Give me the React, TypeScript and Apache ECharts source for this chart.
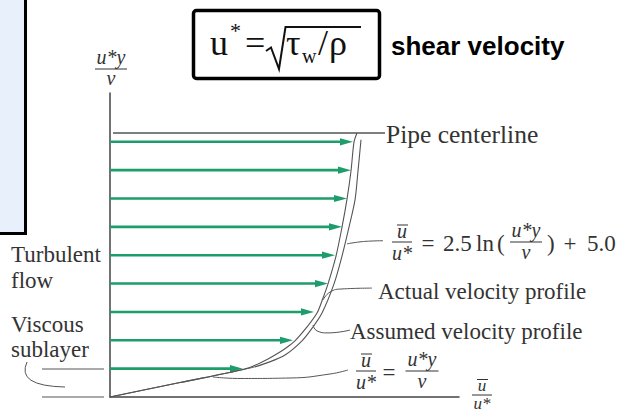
import { useEffect, useRef } from "react";
import * as echarts from "echarts";

// Velocity profile in wall units: x = ū/u*, y = u*y/ν (display units)
const arrowLevels = [1, 2, 3, 4, 5, 6, 7, 8, 9];
const arrowLengths = [13.3, 18.3, 20.4, 21.8, 22.5, 23.2, 23.7, 24.1, 24.3];

const actualX = [0, 7.0, 13.5, 15.2, 16.5, 17.6, 18.5, 19.7, 20.7, 21.3, 21.8, 22.6, 23.2, 23.7, 24.1, 24.4, 24.7];
const actualY = [0, 0.51, 0.99, 1.23, 1.48, 1.73, 1.98, 2.47, 2.96, 3.49, 3.99, 4.97, 5.99, 6.98, 7.97, 8.99, 9.31];
const assumedX = [0, 7.0, 14.0, 15.9, 17.5, 19.2, 20.3, 21.2, 22.4, 23.2, 23.9, 24.5, 24.8, 25.1];
const assumedY = [0, 0.51, 1.02, 1.23, 1.48, 1.98, 2.47, 2.96, 3.99, 4.97, 5.99, 6.95, 7.97, 9.07];

const centerlineX = [0.3, 27.5];
const centerlineY = 9.31;
const X_MAX = 34.9;
const Y_MAX = 10.72;

// leader lines from the curves to their labels
const leaderLogX = [23.7, 25.0, 26.2, 27.3];
const leaderLogY = [5.4, 5.47, 5.5, 5.51];
const leaderActualX = [21.3, 22.0, 23.2, 26.2];
const leaderActualY = [3.42, 3.7, 3.81, 3.84];
const leaderAssumedX = [20.3, 20.7, 21.8, 24.0];
const leaderAssumedY = [2.54, 2.33, 2.26, 2.36];
const leaderLinearX = [10.3, 13.0, 18.0, 22.0, 23.8];
const leaderLinearY = [0.705, 0.653, 0.67, 0.811, 0.952];

const GREEN = "#1d9d6b";
const GRAY = "#555555";
const INK = "#333333";
const SERIF = '"Liberation Serif", "Times New Roman", serif';
const SANS = '"Liberation Sans", Arial, sans-serif';

const zip = (xs: number[], ys: number[]) => xs.map((x, i) => [x, ys[i]]);

function text(
  x: number,
  y: number,
  str: string,
  fs: number,
  opt: { italic?: boolean; bold?: boolean; align?: string; family?: string; fill?: string; lineHeight?: number } = {}
) {
  const align = opt.align || "left";
  const style: any = {
    text: str,
    fontSize: fs,
    fontFamily: opt.family || SERIF,
    fontStyle: opt.italic ? "italic" : "normal",
    fontWeight: opt.bold ? "bold" : "normal",
    fill: opt.fill || INK,
    align,
    textAlign: align,
    verticalAlign: "middle",
    textVerticalAlign: "middle",
  };
  if (opt.lineHeight) style.lineHeight = opt.lineHeight;
  return { type: "text", x, y, silent: true, style };
}

function hline(x1: number, x2: number, y: number, w = 1, color = INK) {
  return { type: "line", silent: true, shape: { x1, y1: y, x2, y2: y }, style: { stroke: color, lineWidth: w } };
}

// stacked fraction: numerator and denominator as one two-line text, with a bar between
function fraction(
  cx: number,
  barY: number,
  num: string,
  den: string,
  fs: number,
  barW: number,
  numDy: number,
  denDy: number,
  overline: boolean
) {
  const els: any[] = [
    text(cx, barY + (numDy + denDy) / 2, num + "\n" + den, fs, {
      italic: true,
      align: "center",
      lineHeight: denDy - numDy,
    }),
    hline(cx - barW / 2, cx + barW / 2, barY, 1),
  ];
  if (overline) els.push(hline(cx - 5, cx + 6, barY + numDy - 6, 1));
  return els;
}

function buildGraphics() {
  const g: any[] = [];
  // side panel
  g.push({
    type: "rect",
    silent: true,
    shape: { x: -10, y: -10, width: 35.5, height: 243.5 },
    style: { fill: "#e7f0fb", stroke: "#000", lineWidth: 3 },
  });
  // definition box
  g.push({
    type: "rect",
    silent: true,
    shape: { x: 193.5, y: 10.5, width: 186, height: 68, r: 3 },
    style: { fill: "#fff", stroke: "#000", lineWidth: 3.5 },
  });
  g.push(text(210, 43, "u", 36, { fill: "#111" }));
  g.push(text(230, 30, "*", 22, { fill: "#111" }));
  g.push(text(245, 43, "=", 36, { fill: "#111" }));
  g.push({
    type: "polyline",
    silent: true,
    shape: { points: [[266, 51], [271, 47.5], [279, 69], [285.5, 27], [361, 27]] },
    style: { stroke: "#111", lineWidth: 2, fill: "none" },
  });
  g.push(text(286, 43, "τ", 36, { fill: "#111" }));
  g.push(text(302, 56, "w", 20, { fill: "#111" }));
  g.push(text(318, 43, "/", 36, { fill: "#111" }));
  g.push(text(329, 43, "ρ", 36, { fill: "#111" }));
  g.push(text(391, 46, "shear velocity", 26, { bold: true, family: SANS, fill: "#000" }));

  // axis titles
  g.push(...fraction(111, 69, "u*y", "ν", 20, 32, -12, 9, false));
  g.push(...fraction(482, 395, "u", "u*", 17, 20, -9.5, 8, true));

  // regime labels on the left
  g.push(text(11, 254, "Turbulent", 23));
  g.push(text(11, 280, "flow", 23));
  g.push(text(11, 324, "Viscous", 23));
  g.push(text(11, 349, "sublayer", 23));
  g.push(hline(42, 104, 369, 1, GRAY));
  g.push(hline(42, 104, 397, 1, GRAY));
  g.push({
    type: "bezierCurve",
    silent: true,
    shape: { x1: 27, y1: 362, cpx1: 16, cpy1: 386, x2: 65, y2: 387 },
    style: { stroke: GRAY, lineWidth: 1, fill: "none" },
  });

  // curve labels
  g.push(text(386, 134, "Pipe centerline", 25.5));
  g.push(...fraction(402, 242, "u", "u*", 20, 20, -11, 11, true));
  g.push(text(428, 243, "=", 23, { align: "center" }));
  g.push(text(443, 243, "2.5", 23));
  g.push(text(476, 243, "ln", 23));
  g.push(text(497, 243, "(", 23));
  g.push(...fraction(526, 242, "u*y", "ν", 20, 32, -12, 10, false));
  g.push(text(547, 243, ")", 23));
  g.push(text(570, 243, "+", 23, { align: "center" }));
  g.push(text(587, 243, "5.0", 23));
  g.push(text(378, 291, "Actual velocity profile", 23));
  g.push(text(350, 331, "Assumed velocity profile", 23));
  g.push(...fraction(366, 371, "u", "u*", 20, 20, -11, 11, true));
  g.push(text(389, 372, "=", 23, { align: "center" }));
  g.push(...fraction(422, 371, "u*y", "ν", 20, 33, -12, 10, false));
  return g;
}

export default function App() {
  const ref = useRef<HTMLDivElement>(null);
  useEffect(() => {
    if (!ref.current) return;
    const chart = echarts.init(ref.current, null, { renderer: "svg" });
    const thin = (data: number[][], w = 1.1) => ({
      type: "line",
      data,
      symbol: "none",
      smooth: 0.3,
      silent: true,
      lineStyle: { color: GRAY, width: w },
      z: 3,
    });
    chart.setOption({
      animation: false,
      backgroundColor: "#ffffff",
      grid: { left: 110, top: 93, width: 349, height: 304 },
      xAxis: {
        type: "value",
        min: 0,
        max: X_MAX,
        axisLine: { show: true, lineStyle: { color: "#444", width: 1.5 } },
        axisTick: { show: false },
        axisLabel: { show: false },
        splitLine: { show: false },
      },
      yAxis: {
        type: "value",
        min: 0,
        max: Y_MAX,
        axisLine: { show: true, lineStyle: { color: "#444", width: 1.5 } },
        axisTick: { show: false },
        axisLabel: { show: false },
        splitLine: { show: false },
      },
      series: [
        {
          type: "custom",
          data: arrowLevels.map((lvl, i) => [arrowLengths[i], lvl]),
          encode: { x: 0, y: 1 },
          silent: true,
          z: 2,
          renderItem: (_params: any, api: any) => {
            const start = api.coord([0, api.value(1)]);
            const tip = api.coord([api.value(0), api.value(1)]);
            const head = 13;
            const half = 3.6;
            return {
              type: "group",
              children: [
                {
                  type: "line",
                  shape: { x1: start[0], y1: start[1], x2: tip[0] - head + 2, y2: tip[1] },
                  style: { stroke: GREEN, lineWidth: 2.6 },
                },
                {
                  type: "polygon",
                  shape: {
                    points: [
                      [tip[0], tip[1]],
                      [tip[0] - head, tip[1] - half],
                      [tip[0] - head, tip[1] + half],
                    ],
                  },
                  style: { fill: GREEN },
                },
              ],
            };
          },
        },
        thin(zip(actualX, actualY)),
        thin(zip(assumedX, assumedY)),
        { ...thin(zip(centerlineX, [centerlineY, centerlineY]), 1.3), smooth: false },
        { ...thin(zip(leaderLogX, leaderLogY), 1), smooth: 0.5 },
        { ...thin(zip(leaderActualX, leaderActualY), 1), smooth: 0.5 },
        { ...thin(zip(leaderAssumedX, leaderAssumedY), 1), smooth: 0.5 },
        { ...thin(zip(leaderLinearX, leaderLinearY), 1), smooth: 0.5 },
      ],
      graphic: buildGraphics(),
    });
    return () => chart.dispose();
  }, []);
  return (
    <div
      ref={ref}
      style={{ position: "fixed", left: 0, top: 0, width: 621, height: 412, background: "#fff" }}
    />
  );
}
